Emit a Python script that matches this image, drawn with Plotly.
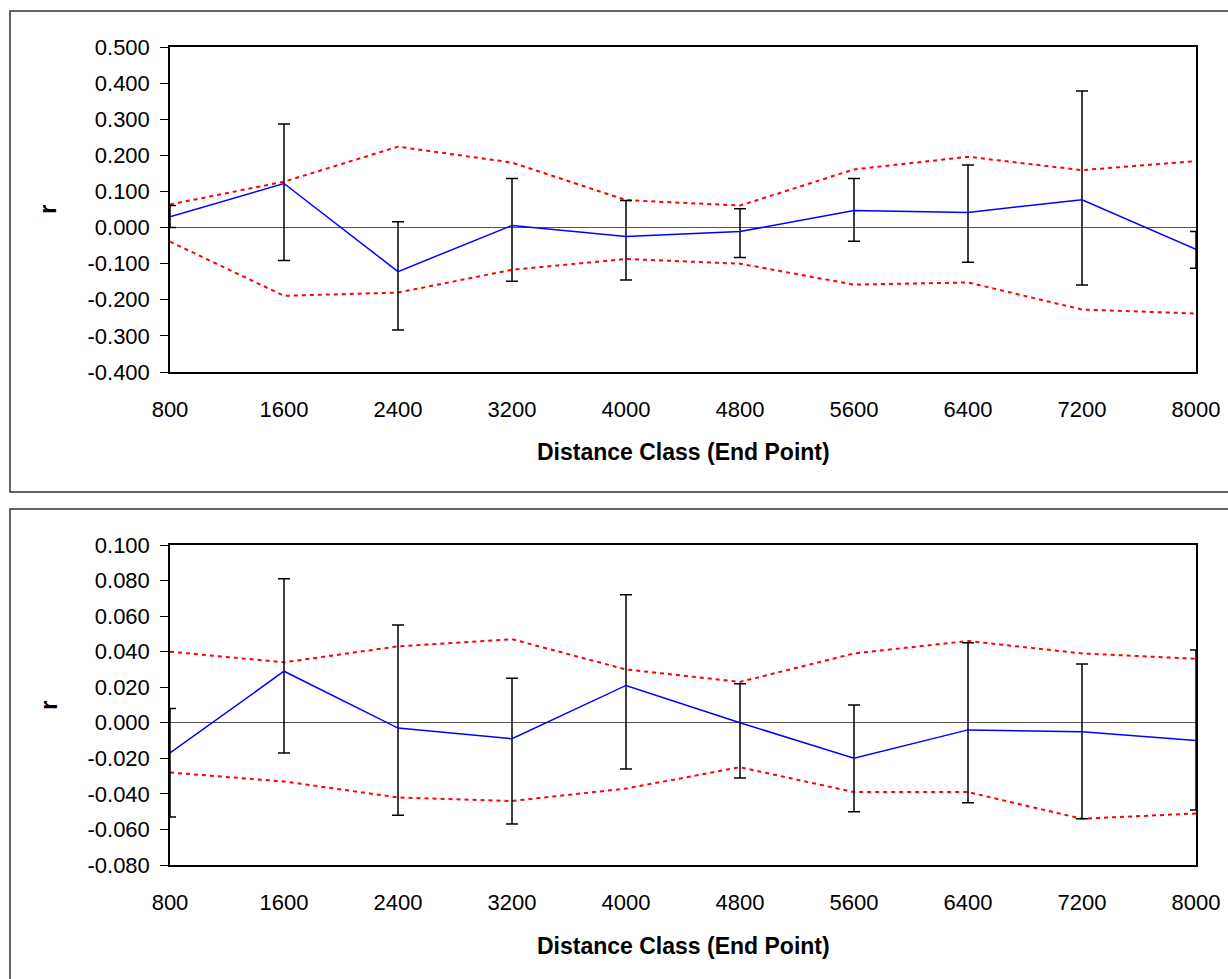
import plotly.graph_objects as go

# Distance classes (end point of each class)
distance = [800, 1600, 2400, 3200, 4000, 4800, 5600, 6400, 7200, 8000]

# Upper panel: correlogram r, bootstrap error limits, permutation envelope
top_r = [0.030, 0.122, -0.122, 0.006, -0.025, -0.011, 0.047, 0.042, 0.077, -0.060]
top_err_hi = [0.061, 0.287, 0.016, 0.136, 0.075, 0.052, 0.136, 0.173, 0.378, -0.011]
top_err_lo = [0.000, -0.091, -0.284, -0.149, -0.145, -0.083, -0.038, -0.096, -0.159, -0.113]
top_upper = [0.064, 0.127, 0.224, 0.180, 0.076, 0.061, 0.161, 0.196, 0.159, 0.184]
top_lower = [-0.039, -0.189, -0.180, -0.117, -0.087, -0.100, -0.158, -0.152, -0.227, -0.238]

# Lower panel
bot_r = [-0.017, 0.029, -0.003, -0.009, 0.021, 0.000, -0.020, -0.004, -0.005, -0.010]
bot_err_hi = [0.008, 0.081, 0.055, 0.025, 0.072, 0.022, 0.010, 0.045, 0.033, 0.041]
bot_err_lo = [-0.053, -0.017, -0.052, -0.057, -0.026, -0.031, -0.050, -0.045, -0.054, -0.049]
bot_upper = [0.040, 0.034, 0.043, 0.047, 0.030, 0.023, 0.039, 0.046, 0.039, 0.036]
bot_lower = [-0.028, -0.033, -0.042, -0.044, -0.037, -0.025, -0.039, -0.039, -0.054, -0.051]

top_ticks = [-0.4, -0.3, -0.2, -0.1, 0.0, 0.1, 0.2, 0.3, 0.4, 0.5]
bot_ticks = [-0.08, -0.06, -0.04, -0.02, 0.0, 0.02, 0.04, 0.06, 0.08, 0.10]

x_title = "Distance Class (End Point)"
y_title = "r"

W, H = 1228, 979
FONT = "Liberation Sans, Arial, sans-serif"


def px_x(p):
    return p / W


def px_y(p):
    return 1 - p / H


def fmt(v):
    # plain hyphen-minus, three decimals
    s = f"{v:.3f}"
    return "0.000" if s == "-0.000" else s


fig = go.Figure()


def add_panel(r, hi, lo, up, low, xa, ya):
    fig.add_trace(go.Scatter(
        x=distance, y=up, mode="lines", xaxis=xa, yaxis=ya,
        line=dict(color="#ff0000", width=2, dash="4px,4px"),
        showlegend=False, hoverinfo="skip"))
    fig.add_trace(go.Scatter(
        x=distance, y=low, mode="lines", xaxis=xa, yaxis=ya,
        line=dict(color="#ff0000", width=2, dash="4px,4px"),
        showlegend=False, hoverinfo="skip"))
    fig.add_trace(go.Scatter(
        x=distance, y=r, mode="lines", xaxis=xa, yaxis=ya,
        line=dict(color="#0000ff", width=1.5),
        error_y=dict(type="data", symmetric=False,
                     array=[h - v for h, v in zip(hi, r)],
                     arrayminus=[v - l for v, l in zip(r, lo)],
                     color="#000000", thickness=1.5, width=6),
        showlegend=False))


add_panel(top_r, top_err_hi, top_err_lo, top_upper, top_lower, "x", "y")
add_panel(bot_r, bot_err_hi, bot_err_lo, bot_upper, bot_lower, "x2", "y2")

xdom = [px_x(170), px_x(1196)]
axis_font = dict(family=FONT, size=22, color="#000000")

xcommon = dict(
    range=[800, 8000], tickvals=distance, ticktext=[str(d) for d in distance],
    showgrid=False, zeroline=False, showline=True, mirror=True,
    linecolor="#000000", linewidth=1.5, ticks="", tickfont=axis_font,
    ticklabelstandoff=17, domain=xdom, automargin=False,
)
ycommon = dict(
    showgrid=False, zeroline=True, zerolinecolor="#555555", zerolinewidth=1,
    showline=True, mirror=True, linecolor="#000000", linewidth=1.5,
    ticks="outside", ticklen=8, tickcolor="#000000", tickwidth=1,
    tickfont=axis_font, ticklabelstandoff=6, automargin=False,
)

fig.update_layout(
    width=W, height=H,
    margin=dict(l=0, r=0, t=0, b=0, autoexpand=False),
    paper_bgcolor="#ffffff", plot_bgcolor="#ffffff",
    font=dict(family=FONT, color="#000000"),
    xaxis=dict(**xcommon, anchor="y"),
    yaxis=dict(**ycommon, range=[-0.4, 0.5], tickvals=top_ticks,
               ticktext=[fmt(v) for v in top_ticks],
               domain=[px_y(372), px_y(47)], anchor="x"),
    xaxis2=dict(**xcommon, anchor="y2"),
    yaxis2=dict(**ycommon, range=[-0.08, 0.10], tickvals=bot_ticks,
                ticktext=[fmt(v) for v in bot_ticks],
                domain=[px_y(865), px_y(545)], anchor="x2"),
)

# Chart-area frames around each panel
for y0, y1 in [(11, 492), (509, 1000)]:
    fig.add_shape(type="rect", xref="paper", yref="paper",
                  x0=px_x(10), x1=px_x(1240), y0=px_y(y1), y1=px_y(y0),
                  line=dict(color="#333333", width=1.5), layer="below")

# Axis titles
for title_y, r_y in [(452, 209), (946, 705)]:
    fig.add_annotation(text=f"<b>{x_title}</b>", xref="paper", yref="paper",
                       x=px_x(683), y=px_y(title_y), showarrow=False,
                       font=dict(family=FONT, size=23, color="#000000"),
                       xanchor="center", yanchor="middle")
    fig.add_annotation(text=f"<b>{y_title}</b>", xref="paper", yref="paper",
                       x=px_x(48), y=px_y(r_y), showarrow=False, textangle=-90,
                       font=dict(family=FONT, size=24, color="#000000"),
                       xanchor="center", yanchor="middle")

fig.write_html("out.html")
